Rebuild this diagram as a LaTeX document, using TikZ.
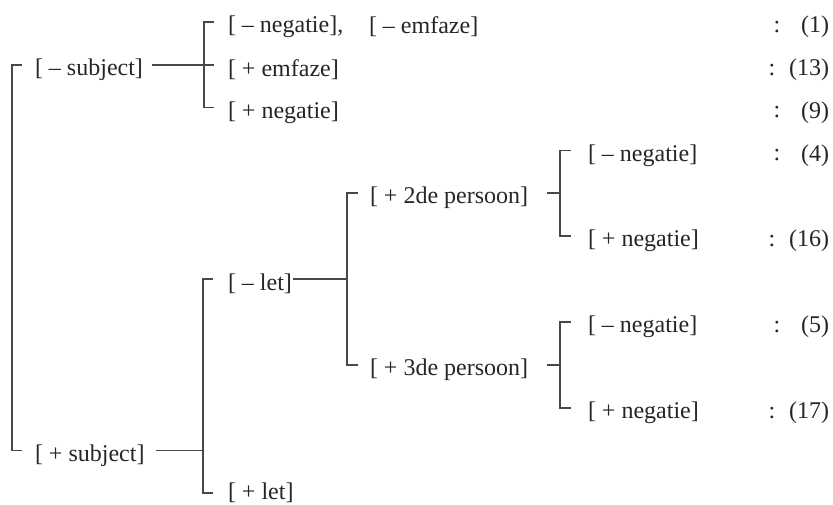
\documentclass[tikz,border=0pt]{standalone}
\usepackage{fontspec}
\setmainfont{Liberation Serif}
\definecolor{ink}{HTML}{262626}
\definecolor{rulec}{HTML}{484848}
\begin{document}
\begin{tikzpicture}[x=1pt,y=-1pt,
  lbl/.style={anchor=west, inner sep=0pt, outer sep=0pt, text=ink, yshift=-5pt,
              font=\fontsize{24}{27}\selectfont},
  num/.style={anchor=east, inner sep=0pt, outer sep=0pt, text=ink, yshift=-5pt,
              font=\fontsize{24}{27}\selectfont},
  col/.style={anchor=center, inner sep=0pt, outer sep=0pt, text=ink, yshift=-5pt,
              font=\fontsize{24}{27}\selectfont},
  br/.style={draw=rulec, line width=1.4pt, line cap=rect}]
\useasboundingbox[fill=white] (0,0) rectangle (833,505);

% rows (hook heights)
\def\rA{22}\def\rB{65}\def\rC{107.5}\def\rD{150.5}\def\rE{193}\def\rF{236}
\def\rG{279}\def\rH{322}\def\rI{365}\def\rJ{408}\def\rK{450.5}\def\rL{493}

% labels
\node[lbl] (sm) at (35,\rB) {[ – subject]};
\node[lbl] (sp) at (35,\rK) {[ + subject]};

\node[lbl] (a0) at (228,\rA) {[ – negatie],};
\node[lbl] (a0b) at (369,\rA) {[ – emfaze]};
\node[lbl] (a1) at (228,\rB) {[ + emfaze]};
\node[lbl] (a2) at (228,\rC) {[ + negatie]};

\node[lbl] (lm) at (228,\rG) {[ – let]};
\node[lbl, yshift=5pt] (lp) at (228,\rL) {[ + let]};

\node[lbl] (p2) at (370,\rE) {[ + 2de persoon]};
\node[lbl] (p3) at (370,\rI) {[ + 3de persoon]};

\node[lbl] (n4) at (588,\rD) {[ – negatie]};
\node[lbl] (n16) at (588,\rF) {[ + negatie]};
\node[lbl] (n5) at (588,\rH) {[ – negatie]};
\node[lbl] (n17) at (588,\rJ) {[ + negatie]};

% counts
\foreach \nm/\rr/\cx/\tx in {c1/\rA/777/(1), c13/\rB/772/(13), c9/\rC/777/(9),
    c4/\rD/777/(4), c16/\rF/772/(16), c5/\rH/777/(5), c17/\rJ/772/(17)}{
  \node[col] (\nm k) at (\cx,\rr) {:};
  \node[num] (\nm) at (829,\rr) {\tx};
}

% outer bracket
\coordinate (o1) at (12,\rB);
\coordinate (o2) at (12,\rK);
\draw[br] ([shift={(-14pt,5pt)}]sm.west) -- (o1) -- (o2) -- ([shift={(-14pt,5pt)}]sp.west);

% bracket for [- subject]
\coordinate (b1) at (204,\rA);
\coordinate (b2) at (204,\rC);
\draw[br] ([shift={(-15pt,5pt)}]a0.west) -- (b1) -- (b2) -- ([shift={(-15pt,5pt)}]a2.west);
\draw[br] ([shift={(10pt,5pt)}]sm.east) -- ([shift={(-15pt,5pt)}]a1.west);

% bracket for [+ subject]
\coordinate (c1) at (203,\rG);
\coordinate (c2) at (203,\rL);
\coordinate (cm) at (203,\rK);
\draw[br] ([shift={(-16pt,5pt)}]lm.west) -- (c1) -- (c2) -- ([shift={(-16pt,0pt)}]lp.west);
\draw[br] ([shift={(12pt,5pt)}]sp.east) -- (cm);

% bracket for [- let]
\coordinate (d1) at (347,\rE);
\coordinate (d2) at (347,\rI);
\coordinate (dm) at (347,\rG);
\draw[br] ([shift={(-13pt,5pt)}]p2.west) -- (d1) -- (d2) -- ([shift={(-13pt,5pt)}]p3.west);
\draw[br] ([shift={(2pt,5pt)}]lm.east) -- (dm);

% bracket for [+ 2de persoon]
\coordinate (e1) at (560,\rD);
\coordinate (e2) at (560,\rF);
\coordinate (em) at (560,\rE);
\draw[br] ([shift={(-18pt,5pt)}]n4.west) -- (e1) -- (e2) -- ([shift={(-18pt,5pt)}]n16.west);
\draw[br] ([xshift=-12pt]em) -- (em);

% bracket for [+ 3de persoon]
\coordinate (f1) at (560,\rH);
\coordinate (f2) at (560,\rJ);
\coordinate (fm) at (560,\rI);
\draw[br] ([shift={(-18pt,5pt)}]n5.west) -- (f1) -- (f2) -- ([shift={(-18pt,5pt)}]n17.west);
\draw[br] ([xshift=-12pt]fm) -- (fm);
\end{tikzpicture}
\end{document}
